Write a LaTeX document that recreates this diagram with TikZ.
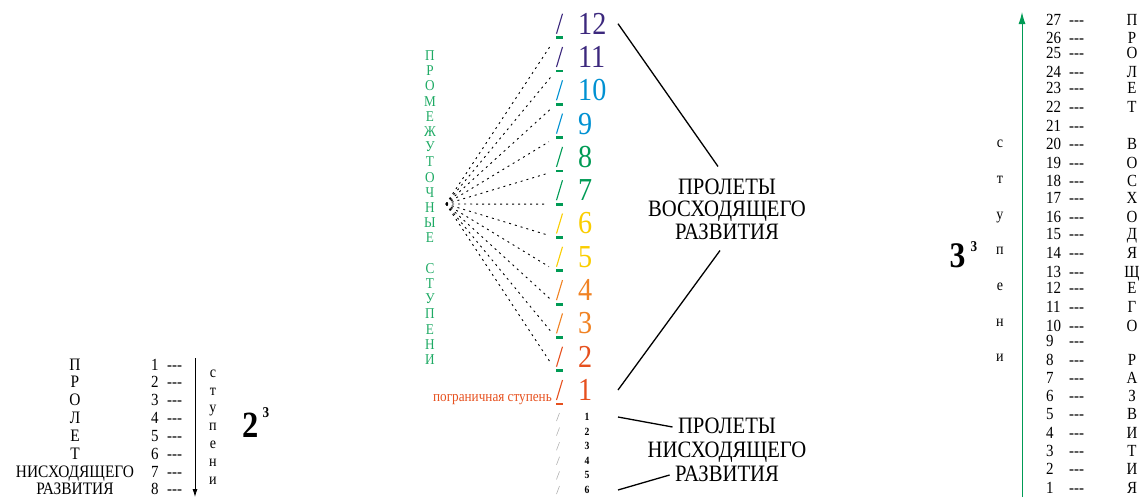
\documentclass[tikz,border=0pt]{standalone}
\usepackage{fontspec}
\setmainfont[FakeStretch=0.88]{Liberation Serif}
\usetikzlibrary{arrows.meta}
\definecolor{vgreen}{RGB}{0,155,85}
\definecolor{tgreen}{RGB}{30,170,100}
\definecolor{cpurple}{RGB}{60,40,125}
\definecolor{cblue}{RGB}{0,145,210}
\definecolor{cyellow}{RGB}{250,205,0}
\definecolor{corange}{RGB}{240,130,35}
\definecolor{cred}{RGB}{230,80,30}
\tikzset{
  num/.style={anchor=west, inner sep=1pt, font=\fontsize{32}{32}\selectfont},
  gdash/.style={fill=vgreen, minimum width=7pt, minimum height=2.8pt, inner sep=0pt},
  dotline/.style={line width=0.9pt, dash pattern=on 2pt off 4pt},
  leader/.style={line width=1.3pt},
  lbl/.style={font=\fontsize{23.5}{23.5}\selectfont, text height=16pt, text depth=4pt},
  row/.style={font=\fontsize{17}{17}\selectfont, inner sep=0pt}
}
\begin{document}
\begin{tikzpicture}[x=1pt, y=-1pt, node distance=22.5pt]
  \useasboundingbox (0,0) rectangle (1144,498);
  % middle: numbers, slashes and steps
  \foreach \n/\c in {1/cred, 2/cred, 3/corange, 4/corange, 5/cyellow, 6/cyellow,
      7/vgreen, 8/vgreen, 9/cblue, 10/cblue, 11/cpurple, 12/cpurple} {
    \pgfmathsetmacro\y{390-33.3*(\n-1)}
    \node[num, text=\c] (n\n) at (577,\y) {\n};
    \draw[\c, line width=1.1pt] (556.5,\y+10) -- (562.5,\y-10);
  }
  \node[gdash, fill=cred] (d1) at (559.5,404) {};
  \foreach \n in {2,...,12} {
    \pgfmathsetmacro\y{404-33.3*(\n-1)}
    \node[gdash] (d\n) at (559.5,\y) {};
  }
  \coordinate (f) at (446,204);
  \foreach \n in {2,...,12} {
    \draw[dotline, shorten >=8pt] (f) -- (d\n.west);
  }
  \node[text=tgreen, align=center, font=\fontsize{15}{15.2}\selectfont] (mid) at (430,207.5)
    {П\\Р\\О\\М\\Е\\Ж\\У\\Т\\О\\Ч\\Н\\Ы\\Е\\[15.2pt]С\\Т\\У\\П\\Е\\Н\\И};
  \node[text=cred, anchor=east, inner sep=1pt, font=\fontsize{15}{15}\selectfont] (pg) at (553,400)
    {пограничная ступень};
  \foreach \n in {1,...,6} {
    \pgfmathsetmacro\y{417+14.6*(\n-1)}
    \node[font=\bfseries\fontsize{11}{11}\selectfont, inner sep=1pt] (s\n) at (587,\y) {\n};
    \draw[gray!60, line width=0.6pt] (556.5,\y+4) -- (559.5,\y-4);
  }
  % labels and leaders
  \node[lbl] (a1) at (727,188) {ПРОЛЕТЫ};
  \node[lbl, below of=a1] (a2) {ВОСХОДЯЩЕГО};
  \node[lbl, below of=a2] (a3) {РАЗВИТИЯ};
  \node[lbl] (b1) at (727,427) {ПРОЛЕТЫ};
  \node[lbl, below of=b1, node distance=24pt] (b2) {НИСХОДЯЩЕГО};
  \node[lbl, below of=b2, node distance=24pt] (b3) {РАЗВИТИЯ};
  \coordinate (lx) at (618,0);
  \draw[leader] (n12 -| lx) -- ([xshift=-9pt, yshift=8pt]a1.north);
  \draw[leader] ([xshift=-7pt, yshift=-4pt]a3.south) -- (n1 -| lx);
  \draw[leader] (s1 -| lx) -- ([xshift=-2pt]b1.west);
  \draw[leader] (s6 -| lx) -- ([xshift=-2pt]b3.west);
  % left: descending span
  \foreach \n/\l in {1/П, 2/Р, 3/О, 4/Л, 5/Е, 6/Т, 7/НИСХОДЯЩЕГО, 8/РАЗВИТИЯ} {
    \pgfmathsetmacro\y{370+17.85*(\n-1)}
    \node[row, anchor=base, font=\fontsize{17.5}{17.5}\selectfont] (l\n) at (75,\y) {\l};
    \node[row, anchor=base west] (ln\n) at (151,\y) {\n};
    \node[row, anchor=base west] (ld\n) at (167,\y) {-{}-{}-};
  }
  \coordinate (at) at (195,358);
  \coordinate (ab) at (195,497);
  \draw[line width=0.8pt, -{Latex[length=8pt, width=5pt]}] (at) -- (ab);
  \node[align=center, font=\fontsize{16}{17.8}\selectfont] (lst) at (213,427) {с\\т\\у\\п\\е\\н\\и};
  \node[font=\bfseries\fontsize{37}{37}\selectfont, inner sep=0pt] (two) at (251,425) {2};
  \node[font=\bfseries\fontsize{15}{15}\selectfont, inner sep=0pt] (twoexp) at (266,413) {3};
  % right: ascending span
  \coordinate (gb) at (1022,497);
  \coordinate (gt) at (1022,12);
  \draw[vgreen, line width=1pt, -{Latex[length=12pt, width=7pt]}] (gb) -- (gt);
  \foreach \n/\y/\l in {27/19/П, 26/37/Р, 25/52/О, 24/71/Л, 23/87/Е, 22/106/Т, 21/125/{},
      20/143/В, 19/162/О, 18/180/С, 17/197/Х, 16/216/О, 15/233/Д, 14/252/Я, 13/271/Щ,
      12/287/Е, 11/306/Г, 10/325/О, 9/340/{}, 8/359/Р, 7/377/А, 6/395/З, 5/413/В,
      4/432/И, 3/450/Т, 2/468/И, 1/487/Я} {
    \node[row, anchor=base west] (r\n) at (1046,\y+6) {\n};
    \node[row, anchor=base west] (rd\n) at (1069,\y+6) {-{}-{}-};
    \node[row, anchor=base] (rl\n) at (1132,\y+6) {\l};
  }
  \node[align=center, font=\fontsize{16}{35.7}\selectfont] (rst) at (1000,251) {с\\т\\у\\п\\е\\н\\и};
  \node[font=\bfseries\fontsize{36}{36}\selectfont, inner sep=0pt] (three) at (957.5,256) {3};
  \node[font=\bfseries\fontsize{15}{15}\selectfont, inner sep=0pt] (threeexp) at (974,247) {3};
\end{tikzpicture}
\end{document}
